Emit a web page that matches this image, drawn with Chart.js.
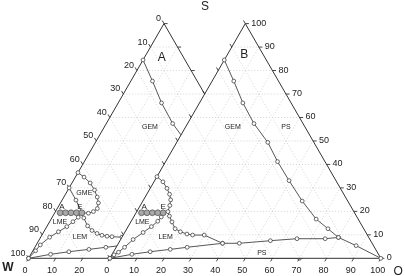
<!DOCTYPE html>
<html>
<head>
<meta charset="utf-8">
<script src="https://cdn.jsdelivr.net/npm/chart.js@4.4.1/dist/chart.umd.min.js"></script>
<style>
  html, body { margin: 0; padding: 0; background: #fff; }
  #wrap { width: 405px; height: 276px; position: relative; }
</style>
</head>
<body>
<div id="wrap"><canvas id="myChart"></canvas></div>
<script>
// every point is [O %, S %], W = 100 - O - S
const offA = 0;
const offB = 30;
const tickVals = [0, 10, 20, 30, 40, 50, 60, 70, 80, 90, 100];

// GEM / PS boundary (same in both diagrams)
const gemPs = [[0, 84.5], [8, 75.5], [16, 66.2], [24.5, 57.4], [33.6, 49.4], [41.3, 41.2], [49.6, 33.1],
    [58.8, 24.4], [67.8, 16.7], [74.2, 12.6], [79.9, 8.9], [88.2, 5.4], [100, 0]];
// lower boundary of LEM (above PS)
const lowerCurve = [[0, 0], [7.3, 1.7], [13.5, 2.8], [20.4, 3.8], [26.2, 4.7], [38.4, 6.4], [44.6, 6.4],
    [55.5, 7.5], [64.9, 8.35], [75.3, 8.35], [79.9, 8.9]];

// diagram A
const loopA = [[0, 36.5], [3.2, 34.6], [6.7, 32.1], [9.8, 29.1], [12.3, 26.1], [14, 23.6], [14.8, 21.2],
    [14, 19.9], [12.5, 19.2], [10, 19.4]];
const gmeLmeA = [[0, 30], [5.1, 24.8], [10, 19.4]];
const lmeLemA = [[0, 0], [1, 3.2], [1.5, 5.7], [3.3, 9], [5.4, 11.3], [7.4, 13.5], [8.6, 15.6], [9.6, 17.5], [10, 19.4]];
const lemTopA = [[10, 19.4], [11.8, 17.2], [14.9, 13.8], [17.5, 11.85], [20, 10.6], [22.2, 9.8], [24.3, 9.4],
    [26.2, 9.2], [30, 9.0], [38.4, 6.4]];

// diagram B
const loopB = [[0, 34.8], [3.3, 32.6], [6.2, 29.8], [8.4, 27.3], [10, 24.9], [10.9, 22.5], [11.5, 19.9],
    [13, 18], [15.2, 15.5], [17.8, 12.6], [20.4, 11.3], [23.3, 10.35], [25.6, 9.9], [29.9, 9.9], [38.4, 6.4]];
const lmeLemB = [[0, 0], [0.8, 1.5], [1.9, 2.6], [3.1, 4.7], [4.6, 8.0], [6.8, 11.0], [8.6, 13.5], [9.8, 15.8],
    [10.2, 17.6], [10, 19.4]];

// samples A..E
const sampleO = [2, 4, 6, 8, 10];
const sampleS = 19.4;

const H = Math.sqrt(3) / 2;
function toXY(off, p) {
    return { x: off + p[0] + p[1] / 2, y: p[1] * H };
}

const notes = [
    { t: 'S', x: 65.1, y: 92.8, f: '12px "Liberation Sans"' },
    { t: 'W', x: -7.6, y: -3.6, f: 'bold 12px "Liberation Sans"' },
    { t: 'O', x: 136.4, y: -5.0, f: '12px "Liberation Sans"' },
    { t: 'A', x: 49.2, y: 74.2, f: '12px "Liberation Sans"' },
    { t: 'B', x: 79.6, y: 75.3, f: '12px "Liberation Sans"' },
    { t: 'GEM', x: 44.8, y: 48.6, f: '7px "Liberation Sans"' },
    { t: 'GEM', x: 75.4, y: 48.6, f: '7px "Liberation Sans"' },
    { t: 'PS', x: 95.0, y: 48.6, f: '7px "Liberation Sans"' },
    { t: 'PS', x: 86.1, y: 2.1, f: '7px "Liberation Sans"' },
    { t: 'GME', x: 20.6, y: 24.2, f: '7px "Liberation Sans"' },
    { t: 'LME', x: 11.6, y: 13.5, f: '7px "Liberation Sans"' },
    { t: 'LEM', x: 19.0, y: 7.75, f: '7px "Liberation Sans"' },
    { t: 'LME', x: 42.0, y: 13.5, f: '7px "Liberation Sans"' },
    { t: 'LEM', x: 50.6, y: 7.75, f: '7px "Liberation Sans"' },
    { t: 'A', x: 12.3, y: 19.0, f: '8px "Liberation Sans"' },
    { t: 'E', x: 19.0, y: 19.0, f: '8px "Liberation Sans"' },
    { t: 'A', x: 42.7, y: 18.9, f: '8px "Liberation Sans"' },
    { t: 'E', x: 49.7, y: 19.0, f: '8px "Liberation Sans"' }
];

function curve(off, pts, order) {
    return {
        data: pts.map(p => toXY(off, p)),
        showLine: true,
        borderColor: '#444',
        borderWidth: 0.9,
        pointRadius: 1.9,
        pointBackgroundColor: '#fff',
        pointBorderColor: '#444',
        pointBorderWidth: 0.8,
        order: order
    };
}

function frame(off, order, isB) {
    return {
        data: [[0, 0], [100, 0], [0, 100], [0, 0]].map(p => toXY(off, p)),
        showLine: true,
        borderColor: '#333',
        borderWidth: 1,
        pointRadius: 0,
        order: order,
        frameB: isB
    };
}

function samples(off, order) {
    return {
        data: sampleO.map(o => toXY(off, [o, sampleS])),
        showLine: false,
        pointRadius: 2.9,
        pointBackgroundColor: '#a8a8a8',
        pointBorderColor: '#555',
        pointBorderWidth: 0.8,
        order: order
    };
}

function seg(chart, a, b) {
    const sx = chart.scales.x, sy = chart.scales.y, ctx = chart.ctx;
    ctx.beginPath();
    ctx.moveTo(sx.getPixelForValue(a.x), sy.getPixelForValue(a.y));
    ctx.lineTo(sx.getPixelForValue(b.x), sy.getPixelForValue(b.y));
    ctx.stroke();
}

function drawGrid(chart, off) {
    const ctx = chart.ctx;
    ctx.save();
    ctx.strokeStyle = '#c9c9c9';
    ctx.lineWidth = 0.8;
    ctx.setLineDash([1, 2]);
    for (let v = 10; v < 100; v += 10) {
        seg(chart, toXY(off, [0, v]), toXY(off, [100 - v, v]));
        seg(chart, toXY(off, [v, 0]), toXY(off, [v, 100 - v]));
        seg(chart, toXY(off, [100 - v, 0]), toXY(off, [0, 100 - v]));
    }
    ctx.restore();
}

// ticks: left edge (W) up-left, bottom (O) down-left, right edge (S) to the right
function drawTicks(chart, off, bottomMax) {
    const sx = chart.scales.x, sy = chart.scales.y, ctx = chart.ctx;
    ctx.save();
    ctx.strokeStyle = '#333';
    ctx.lineWidth = 0.9;
    tickVals.forEach(v => {
        let p = toXY(off, [0, 100 - v]);
        let x = sx.getPixelForValue(p.x), y = sy.getPixelForValue(p.y);
        ctx.beginPath(); ctx.moveTo(x, y); ctx.lineTo(x - 1.8, y - 3.1); ctx.stroke();
        if (v <= bottomMax) {
            p = toXY(off, [v, 0]);
            x = sx.getPixelForValue(p.x); y = sy.getPixelForValue(p.y);
            ctx.beginPath(); ctx.moveTo(x, y); ctx.lineTo(x - 1.8, y + 3.1); ctx.stroke();
        }
        p = toXY(off, [100 - v, v]);
        x = sx.getPixelForValue(p.x); y = sy.getPixelForValue(p.y);
        ctx.beginPath(); ctx.moveTo(x, y); ctx.lineTo(x + 3.6, y); ctx.stroke();
    });
    ctx.restore();
}

const ternaryPlugin = {
    id: 'ternary',
    beforeDatasetsDraw(chart) {
        drawGrid(chart, offA);
        drawTicks(chart, offA, 20);
    },
    beforeDatasetDraw(chart, args) {
        const ds = chart.data.datasets[args.index];
        if (!ds.frameB) return;
        const sx = chart.scales.x, sy = chart.scales.y, ctx = chart.ctx;
        ctx.save();
        ctx.fillStyle = '#fff';
        ctx.beginPath();
        ds.data.forEach((p, i) => {
            const x = sx.getPixelForValue(p.x), y = sy.getPixelForValue(p.y);
            if (i === 0) ctx.moveTo(x, y); else ctx.lineTo(x, y);
        });
        ctx.fill();
        ctx.restore();
        drawGrid(chart, offB);
        drawTicks(chart, offB, 100);
    },
    afterDatasetsDraw(chart) {
        const sx = chart.scales.x, sy = chart.scales.y, ctx = chart.ctx;
        ctx.save();
        ctx.fillStyle = '#222';
        ctx.textBaseline = 'middle';
        ctx.font = '9px "Liberation Sans"';
        tickVals.forEach(v => {
            // A: left axis (W) and first bottom labels
            let p = toXY(offA, [0, 100 - v]);
            ctx.textAlign = 'right';
            ctx.fillText(String(v), sx.getPixelForValue(p.x) - 3, sy.getPixelForValue(p.y) - 5);
            ctx.textAlign = 'center';
            if (v <= 20) {
                p = toXY(offA, [v, 0]);
                ctx.fillText(String(v), sx.getPixelForValue(p.x) - 3.5, sy.getPixelForValue(p.y) + 12);
            }
            // B: bottom (O) and right axis (S)
            p = toXY(offB, [v, 0]);
            ctx.fillText(String(v), sx.getPixelForValue(p.x) - 3, sy.getPixelForValue(p.y) + 12);
            p = toXY(offB, [100 - v, v]);
            ctx.textAlign = 'left';
            ctx.fillText(String(v), sx.getPixelForValue(p.x) + 6, sy.getPixelForValue(p.y) - 0.5);
        });
        ctx.textAlign = 'center';
        notes.forEach(n => {
            ctx.font = n.f;
            ctx.fillText(n.t, sx.getPixelForValue(n.x), sy.getPixelForValue(n.y));
        });
        ctx.restore();
    }
};

const ctx = document.getElementById('myChart').getContext('2d');
const myChart = new Chart(ctx, {
    type: 'scatter',
    data: {
        datasets: [
            frame(offA, 90, false),
            curve(offA, gemPs, 80),
            curve(offA, lowerCurve, 80),
            curve(offA, loopA, 80),
            curve(offA, gmeLmeA, 80),
            curve(offA, lmeLemA, 80),
            curve(offA, lemTopA, 80),
            samples(offA, 70),
            frame(offB, 40, true),
            curve(offB, gemPs, 30),
            curve(offB, lowerCurve, 30),
            curve(offB, loopB, 30),
            curve(offB, lmeLemB, 30),
            samples(offB, 20)
        ]
    },
    options: {
        responsive: true,
        maintainAspectRatio: false,
        animation: false,
        layout: { padding: 0, autoPadding: false },
        plugins: {
            legend: { display: false },
            tooltip: { enabled: false }
        },
        scales: {
            x: { type: 'linear', display: false, min: -10.52, max: 138.93 },
            y: { type: 'linear', display: false, min: -6.53, max: 95.31 }
        }
    },
    plugins: [ternaryPlugin]
});
</script>
</body>
</html>
